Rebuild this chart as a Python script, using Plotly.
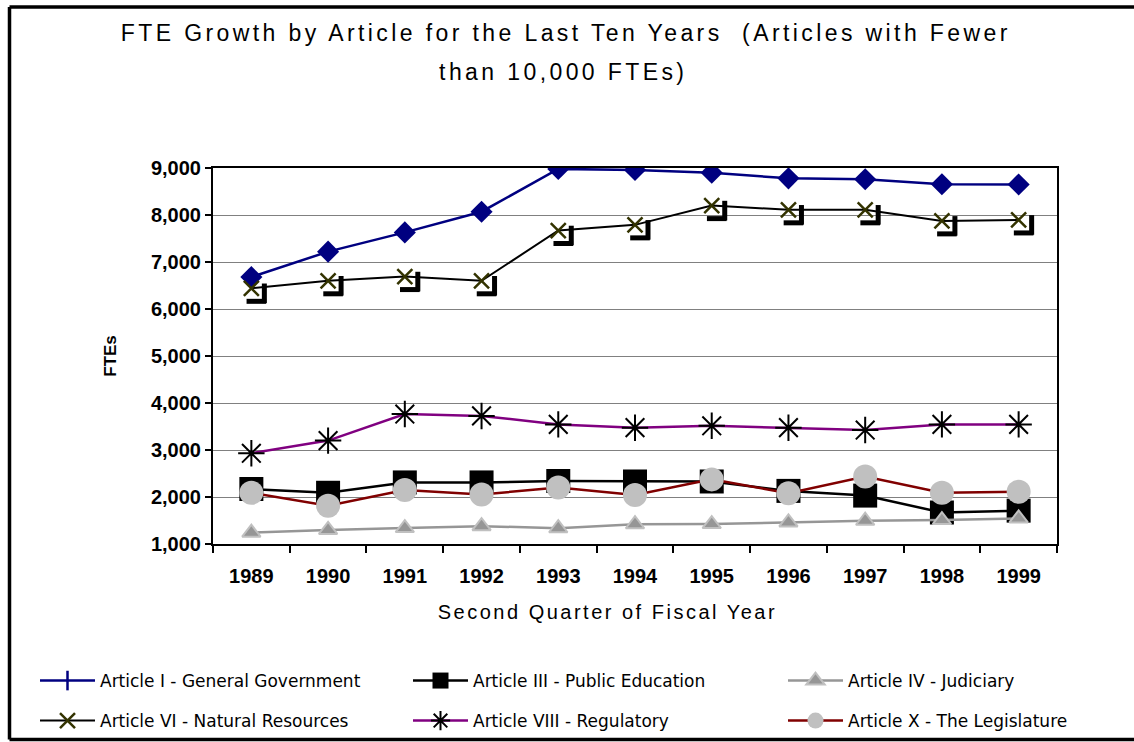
import plotly.graph_objects as go

W, H = 1134, 742
PLOT_L, PLOT_R, PLOT_T, PLOT_B = 213, 1057, 168, 544

years = ["1989", "1990", "1991", "1992", "1993", "1994", "1995", "1996", "1997", "1998", "1999"]
art_i = [6680, 7220, 7630, 8070, 8980, 8960, 8900, 8780, 8760, 8655, 8650]
art_iii = [2170, 2090, 2310, 2310, 2340, 2330, 2330, 2130, 2030, 1670, 1710]
art_iv = [1240, 1300, 1340, 1380, 1335, 1420, 1425, 1460, 1495, 1510, 1545]
art_vi = [6440, 6600, 6690, 6600, 7670, 7790, 8200, 8110, 8110, 7875, 7895]
art_viii = [2930, 3200, 3765, 3725, 3545, 3475, 3515, 3475, 3425, 3545, 3545]
art_x = [2090, 1815, 2150, 2055, 2200, 2045, 2375, 2080, 2435, 2090, 2110]

Y_MIN, Y_MAX = 1000, 9000

names = [
    "Article I - General Government",
    "Article III - Public Education",
    "Article IV - Judiciary",
    "Article VI - Natural Resources",
    "Article VIII - Regulatory",
    "Article X - The Legislature",
]

pw = PLOT_R - PLOT_L
ph = PLOT_B - PLOT_T


def px2x(px):
    return (px - PLOT_L) / pw


def px2y(py):
    return (PLOT_B - py) / ph


# pixel -> data offsets for the drop-shadow on the Article VI markers
cat_per_px = len(years) / pw
val_per_px = (Y_MAX - Y_MIN) / ph

ARIAL = "Liberation Sans, Arial, sans-serif"
WIDE = "DejaVu Sans, Verdana, sans-serif"

fig = go.Figure()

# Article I (legend entry drawn separately, it shows a '+')
fig.add_trace(go.Scatter(
    x=years, y=art_i, mode="lines+markers", name=names[0],
    line=dict(color="#000080", width=2.5),
    marker=dict(symbol="diamond", size=17, color="#000080"),
    showlegend=False,
))
fig.add_trace(go.Scatter(
    x=[None], y=[None], mode="lines+markers", name=names[0],
    line=dict(color="#000080", width=2.5),
    marker=dict(symbol="line-ns", size=14, line=dict(color="#000080", width=2.5)),
    legend="legend",
))

# Article III
fig.add_trace(go.Scatter(
    x=years, y=art_iii, mode="lines+markers", name=names[1],
    line=dict(color="black", width=2.5),
    marker=dict(symbol="square", size=24, color="black"),
    legend="legend2",
))

# Article IV
fig.add_trace(go.Scatter(
    x=years, y=art_iv, mode="lines+markers", name=names[2],
    line=dict(color="#969696", width=2.5),
    marker=dict(symbol="triangle-up", size=16, color="#969696",
                line=dict(color="#C0C0C0", width=2)),
    legend="legend3",
))

# Article VI shadow (bottom-right "L" behind the x markers)
fig.add_trace(go.Scatter(
    x=years, y=art_vi, mode="markers", xaxis="x2", yaxis="y2",
    marker=dict(symbol="line-ns", size=14, line=dict(color="black", width=5)),
    showlegend=False, hoverinfo="skip",
))
fig.add_trace(go.Scatter(
    x=years, y=art_vi, mode="markers", xaxis="x3", yaxis="y3",
    marker=dict(symbol="line-ew", size=14, line=dict(color="black", width=5)),
    showlegend=False, hoverinfo="skip",
))

# Article VI
fig.add_trace(go.Scatter(
    x=years, y=art_vi, mode="lines+markers", name=names[3],
    line=dict(color="black", width=2),
    marker=dict(symbol="x-thin", size=15, line=dict(color="#333300", width=2.5)),
    legend="legend4",
))

# Article VIII
fig.add_trace(go.Scatter(
    x=years, y=art_viii, mode="lines+markers", name=names[4],
    line=dict(color="#800080", width=2.5),
    marker=dict(symbol="asterisk", size=22, line=dict(color="black", width=2)),
    legend="legend5",
))

# Article X
fig.add_trace(go.Scatter(
    x=years, y=art_x, mode="lines+markers", name=names[5],
    line=dict(color="#800000", width=2.5),
    marker=dict(symbol="circle", size=24, color="#C0C0C0"),
    legend="legend6",
))

# outer frame: left, top and bottom edges (right edge is cut off in the original)
frame_l, frame_r = px2x(9.5), px2x(1200)
frame_t, frame_b = px2y(7), px2y(739.5)
for (x0, y0, x1, y1) in [
    (frame_l, frame_b, frame_l, frame_t),
    (frame_l, frame_t, frame_r, frame_t),
    (frame_l, frame_b, frame_r, frame_b),
]:
    fig.add_shape(
        type="line", xref="paper", yref="paper",
        x0=x0, y0=y0, x1=x1, y1=y1,
        line=dict(color="black", width=3.5),
    )

# title (two lines) and x axis title
fig.add_annotation(
    text="FTE Growth by Article for the Last Ten Years  (Articles with Fewer",
    xref="paper", yref="paper", x=px2x(566), y=px2y(33),
    xanchor="center", yanchor="middle",
    showarrow=False, font=dict(family=ARIAL, size=23, color="black"),
)
fig.add_annotation(
    text="than 10,000 FTEs)",
    xref="paper", yref="paper", x=px2x(563), y=px2y(72),
    xanchor="center", yanchor="middle",
    showarrow=False, font=dict(family=ARIAL, size=23, color="black"),
)
fig.add_annotation(
    text="Second Quarter of Fiscal Year",
    xref="paper", yref="paper", x=px2x(607), y=px2y(612),
    xanchor="center", yanchor="middle",
    showarrow=False, font=dict(family=ARIAL, size=20, color="black"),
)

x_range = [-0.5, len(years) - 0.5]
y_range = [Y_MIN, Y_MAX]


def shifted_x(dpx):
    return [x_range[0] - dpx * cat_per_px, x_range[1] - dpx * cat_per_px]


def shifted_y(dpx):
    return [y_range[0] + dpx * val_per_px, y_range[1] + dpx * val_per_px]


def legend_at(left_px, mid_px):
    return dict(
        x=px2x(left_px), y=px2y(mid_px),
        orientation="h", xref="paper", yref="paper",
        xanchor="left", yanchor="middle",
        font=dict(family=WIDE, size=17, color="black"),
        itemwidth=55,
        bgcolor="rgba(0,0,0,0)", borderwidth=0,
    )


# legend columns (left edge of the sample line) and rows (centre line)
LEG_COLS = [35, 408, 783]
LEG_ROWS = [681, 721]

fig.update_layout(
    width=W, height=H,
    margin=dict(l=PLOT_L, r=W - PLOT_R, t=PLOT_T, b=H - PLOT_B, autoexpand=False),
    paper_bgcolor="white", plot_bgcolor="white",
    xaxis=dict(
        type="category", range=x_range,
        tickson="boundaries", ticks="outside", ticklen=7, tickwidth=2, tickcolor="black",
        showline=True, linewidth=2, linecolor="black", mirror=True,
        showgrid=False, zeroline=False,
        tickfont=dict(family=ARIAL, size=20, color="black", weight="bold"),
        ticklabelstandoff=13,
    ),
    yaxis=dict(
        range=y_range, dtick=1000, tickformat=",",
        ticks="outside", ticklen=6, tickwidth=2, tickcolor="black",
        showline=True, linewidth=2, linecolor="black", mirror=True,
        showgrid=True, gridcolor="#808080", gridwidth=1, zeroline=False,
        tickfont=dict(family=ARIAL, size=20, color="black", weight="bold"),
        ticklabelstandoff=0,
        title=dict(text="FTEs", standoff=30,
                   font=dict(family=ARIAL, size=17, color="black", weight="bold")),
    ),
    xaxis2=dict(type="category", overlaying="x", range=shifted_x(13), visible=False),
    yaxis2=dict(overlaying="y", range=shifted_y(5), visible=False),
    xaxis3=dict(type="category", overlaying="x", range=shifted_x(5), visible=False),
    yaxis3=dict(overlaying="y", range=shifted_y(13), visible=False),
    legend=legend_at(LEG_COLS[0], LEG_ROWS[0]),
    legend2=legend_at(LEG_COLS[1], LEG_ROWS[0]),
    legend3=legend_at(LEG_COLS[2], LEG_ROWS[0]),
    legend4=legend_at(LEG_COLS[0], LEG_ROWS[1]),
    legend5=legend_at(LEG_COLS[1], LEG_ROWS[1]),
    legend6=legend_at(LEG_COLS[2], LEG_ROWS[1]),
    showlegend=True,
)

# page margin/scrollbars off, and the wide letter spacing of the original title texts
post = """
document.documentElement.style.overflow = 'hidden';
document.body.style.overflow = 'hidden';
document.body.style.margin = '0';
var gd = document.getElementById('{plot_id}');
var spacing = ['3.4px', '3.4px', '2.5px'];
gd.querySelectorAll('.annotation-text').forEach(function (t, i) {
  t.style.letterSpacing = spacing[i] || '0px';
});
"""

fig.write_html("out.html", post_script=post, config={"displayModeBar": False})
